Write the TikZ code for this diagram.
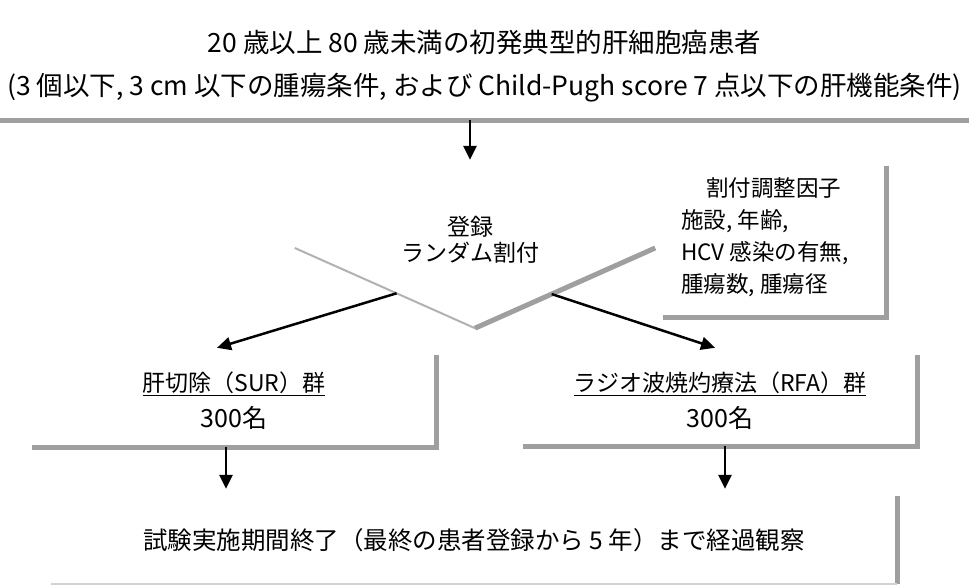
\documentclass[tikz,border=0pt]{standalone}
\usepackage{fontspec}
\setmainfont{Noto Sans CJK JP}
\usetikzlibrary{shapes.geometric,arrows.meta}
\begin{document}
\begin{tikzpicture}[x=1pt,y=-1pt,
  shadowline/.style={draw=gray!75, line width=5pt},
  thinshadow/.style={draw=gray!60, line width=2pt},
  arr/.style={-{Triangle[length=14pt,width=13pt]}, line width=2.5pt, black},
  boxnode/.style={inner sep=0pt, draw=none, align=center},
  toptext/.style={font=\fontsize{26.5}{43}\selectfont},
  bodytext/.style={font=\fontsize{23}{36}\selectfont}]
\fill[white] (0,0) rectangle (969,585);
\useasboundingbox (0,0) rectangle (969,585);

% boxes
\node[boxnode, toptext, minimum width=969pt, minimum height=108pt] (top) at (484.5,66)
  {20 歳以上 80 歳未満の初発典型的肝細胞癌患者\\(3 個以下, 3 cm 以下の腫瘍条件, および Child-Pugh score 7 点以下の肝機能条件)};
\node[diamond, inner sep=0pt, minimum width=360pt, minimum height=160pt, draw=none] (dia) at (475,248) {};
\node[boxnode, font=\fontsize{23}{26}\selectfont] (reg) at (470,240) {登録\\ランダム割付};
\node[boxnode, minimum width=223pt, minimum height=151pt] (fac) at (774.5,241.5) {};
\node[boxnode, align=left, font=\fontsize{22.5}{32}\selectfont] (factxt) at (765,237)
  {\hspace{25pt}割付調整因子\\施設, 年齢,\\HCV 感染の有無,\\腫瘍数, 腫瘍径};
\node[boxnode, bodytext, minimum width=404pt, minimum height=92pt] (sur) at (234,401)
  {\underline{肝切除（SUR）群}\\{\fontsize{25}{36}\selectfont 300名}};
\node[boxnode, bodytext, minimum width=394pt, minimum height=91pt] (rfa) at (720,400.5)
  {\underline{ラジオ波焼灼療法（RFA）群}\\{\fontsize{25}{36}\selectfont 300名}};
\node[boxnode, font=\fontsize{24.5}{36}\selectfont, minimum width=846pt, minimum height=88pt] (bot) at (474,540)
  {試験実施期間終了（最終の患者登録から 5 年）まで経過観察};

% shadows
\draw[shadowline] (top.south west) -- (top.south east);
\draw[thinshadow] (dia.west) -- (dia.south);
\draw[shadowline] (dia.south) -- (dia.east);
\draw[shadowline] (fac.north east) -- (fac.south east) -- (fac.south west);
\draw[shadowline] (sur.north east) -- (sur.south east) -- (sur.south west);
\draw[shadowline] (rfa.north east) -- (rfa.south east) -- (rfa.south west);
\draw[shadowline] (bot.north east) -- (bot.south east);
\draw[draw=gray!35, line width=1.5pt] (bot.south west) -- (bot.south east);

% connectors
\coordinate (a0) at ([xshift=-14.5pt]top.south);
\draw[arr, shorten >=8pt] (a0) -- (a0 |- dia.north);
\draw[arr] (dia.210.4) -- ([xshift=-17pt,yshift=7pt]sur.north);
\draw[arr] (dia.-31.9) -- ([xshift=-5pt,yshift=7pt]rfa.north);
\coordinate (a1) at ([xshift=-8pt]sur.south);
\coordinate (a2) at ([xshift=5pt]rfa.south);
\draw[arr, shorten >=7pt] (a1) -- (a1 |- bot.north);
\draw[arr, shorten >=7pt] (a2) -- (a2 |- bot.north);
\end{tikzpicture}
\end{document}
